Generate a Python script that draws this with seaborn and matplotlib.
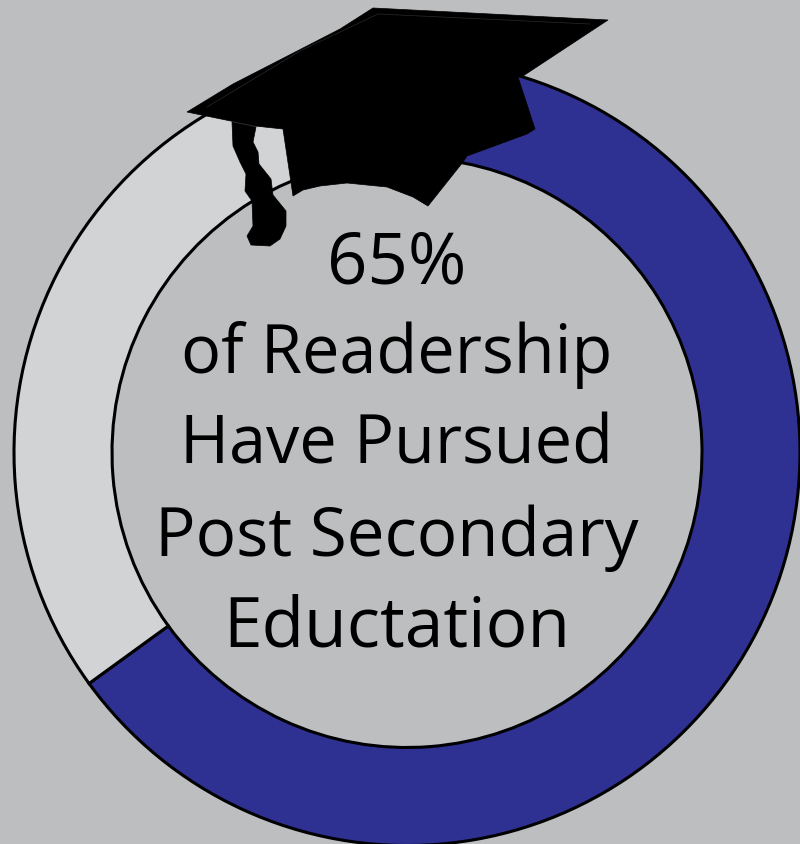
import matplotlib
matplotlib.use('Agg')
import matplotlib.pyplot as plt
from matplotlib.patches import Polygon
import seaborn as sns

# readership share
labels = ['Post secondary', 'Other']
shares = [65, 35]
text_lines = ['65%', 'of Readership', 'Have Pursued', 'Post Secondary', 'Eductation']
text_y = [283, 373, 464, 556, 647]
text_size = [51, 48, 48, 48.5, 50]

# cap outline, traced in picture pixels
cap_x = [373, 608, 523, 518, 535, 527, 467, 463, 428, 413, 387, 347, 320, 303, 293, 283, 255, 187, 233, 340]
cap_y = [9, 21, 77, 78, 130, 135, 157, 163, 207, 198, 188, 184, 187, 191, 197, 130, 127, 113, 85, 30]
tassel_x = [232, 233, 240, 246, 245, 252, 253, 247, 251, 270, 280, 286, 286, 273, 271, 259, 258, 253, 256]
tassel_y = [123, 147, 163, 175, 192, 202, 227, 237, 246, 247, 240, 227, 212, 196, 180, 165, 153, 143, 128]

# faint highlight along the cap's upper edge
shine_x = [207, 300, 378, 590]
shine_y = [108, 52, 15, 25]

W, H = 800, 845
bg = '#BCBEC0'

sns.set_theme(style='white')
plt.rcParams['font.family'] = ['Open Sans', 'DejaVu Sans']
colors = sns.color_palette(['#2E3192', '#D1D3D4'])

fig = plt.figure(figsize=(W / 100, H / 100), dpi=100, facecolor=bg)
ax = fig.add_axes([0, 0, 1, 1], facecolor=bg)

ax.pie(shares, colors=colors, startangle=90, counterclock=False,
       center=(407, H - 453.5), radius=393,
       wedgeprops={'width': 98, 'edgecolor': 'black', 'linewidth': 2.2})

ax.set_xlim(0, W)
ax.set_ylim(0, H)
ax.set_aspect('equal')
ax.axis('off')

# cap on top of the ring
ax.add_patch(Polygon(list(zip(tassel_x, [H - y for y in tassel_y])), closed=True,
                     facecolor='black', edgecolor='black', linewidth=0.5, zorder=5))
ax.add_patch(Polygon(list(zip(cap_x, [H - y for y in cap_y])), closed=True,
                     facecolor='black', edgecolor='black', linewidth=0.5, zorder=6))
ax.plot(shine_x, [H - y for y in shine_y], color='#2A2A2A', linewidth=0.5, zorder=6.5)

for line, y, size in zip(text_lines, text_y, text_size):
    ax.text(397, H - y, line, ha='center', va='baseline', fontsize=size, color='black', zorder=7)

fig.savefig('out.png', dpi=100, facecolor=bg)
